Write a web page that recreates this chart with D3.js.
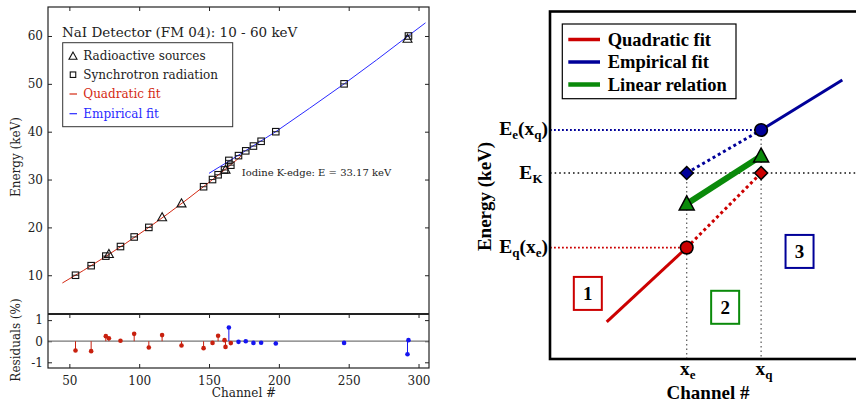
<!DOCTYPE html>
<html><head><meta charset="utf-8">
<script src="https://cdn.jsdelivr.net/npm/d3@7"></script>
<style>body{margin:0;background:#fff} svg{display:block}</style>
</head><body>
<svg id="c" width="856" height="404"></svg>
<script>
// ---------------- data (left panel) ----------------
const squareChannels = [54.4, 65.6, 76.1, 86.6, 96.4, 106.9, 146.1, 152.5, 156.5, 161.1, 165.6, 164.2, 171.1, 176.3, 181.8, 187.3, 197.8, 246.7, 292.8];
const squareEnergies = [10, 12, 14, 16, 18, 20, 28.5, 30, 31, 32, 33, 34, 35, 36, 37, 38, 40, 50, 60];
const triangleChannels = [78.3, 116.4, 130.3, 161.8, 292.1];
const triangleEnergies = [14.41, 22.1, 25.0, 32.06, 59.4];
const quadFitChannels = [45, 60, 75, 90, 105, 120, 135, 150, 165, 173];
const quadFitEnergies = [8.38, 10.99, 13.73, 16.6, 19.61, 22.74, 26.01, 29.41, 32.94, 34.9];
const empFitChannels = [150, 164, 176, 198, 222, 247, 270, 292.5, 305];
const empFitEnergies = [31.3, 33.8, 36.0, 40.05, 44.9, 50.05, 55.0, 60.0, 62.75];
const resQuadChannels = [54.4, 65.6, 76.1, 78.3, 86.6, 96.4, 106.9, 116.4, 130.3, 146.1, 152.5, 156.5, 161.1, 161.8, 165.6];
const resQuadValues = [-0.44, -0.47, 0.24, 0.14, 0.02, 0.35, -0.3, 0.29, -0.2, -0.33, -0.08, 0.26, 0.05, -0.27, -0.09];
const resEmpChannels = [164.2, 171.1, 176.3, 181.8, 187.3, 197.8, 246.7, 292.1, 292.8];
const resEmpValues = [0.65, -0.03, 0.0, -0.08, -0.07, -0.11, -0.08, -0.62, 0.05];
const xTicks = [50, 100, 150, 200, 250, 300];
const yTicks = [10, 20, 30, 40, 50, 60];
const resTicks = [-1, 0, 1];
const legendLeft = ["Radioactive sources", "Synchrotron radiation", "Quadratic fit", "Empirical fit"];

// ---------------- data (right schematic, abstract units 0-100) ----------------
const xe = 44.1, xq = 68.1;
const EK = 53.6, EeXq = 66.0, EqXe = 32.1;
const linAtXe = 44.7, linAtXq = 58.5;
const quadSolidStart = [18.3, 10.7];
const empSolidEnd = [94.3, 80.4];
const legendRight = ["Quadratic fit", "Empirical fit", "Linear relation"];
const regionBoxes = [{label: "1", x: 12.2, y: 18.9}, {label: "2", x: 56.5, y: 14.9}, {label: "3", x: 80.5, y: 31.0}];

const svg = d3.select("#c");
const SERIF = "DejaVu Serif";
const RED = "#d42a14", BLUE = "#2a2aff";

// ================= LEFT PANEL =================
const x = d3.scaleLinear().domain([34.7, 307.5]).range([48, 429]);
const yM = d3.scaleLinear().domain([1.9, 66.06]).range([314, 7]);
const yR = d3.scaleLinear().domain([-1.27, 1.29]).range([368, 314]);

const L = svg.append("g");
L.append("clipPath").attr("id", "clipMain").append("rect").attr("x", 48).attr("y", 7).attr("width", 381).attr("height", 307);

const fmt = d => String(d).replace("\u2212", "-");
function styleAxis(g, labels) {
  g.select(".domain").remove();
  g.selectAll(".tick line").attr("stroke", "#222").attr("stroke-width", 1);
  g.selectAll("text").attr("font-family", SERIF).attr("font-size", 12).attr("fill", "#222");
  if (!labels) g.selectAll("text").remove();
}
L.append("g").attr("transform", "translate(48,0)").call(d3.axisLeft(yM).tickValues(yTicks).tickFormat(fmt).tickSize(-4).tickPadding(5)).call(g => styleAxis(g, true));
L.append("g").attr("transform", "translate(429,0)").call(d3.axisRight(yM).tickValues(yTicks).tickSize(-4)).call(g => styleAxis(g, false));
L.append("g").attr("transform", "translate(0,7)").call(d3.axisTop(x).tickValues(xTicks).tickSize(-4)).call(g => styleAxis(g, false));
L.append("g").attr("transform", "translate(0,314)").call(d3.axisBottom(x).tickValues(xTicks).tickSize(4)).call(g => styleAxis(g, false));
L.append("g").attr("transform", "translate(0,368)").call(d3.axisBottom(x).tickValues(xTicks).tickFormat(fmt).tickSize(-4).tickPadding(8)).call(g => styleAxis(g, true));
L.append("g").attr("transform", "translate(48,0)").call(d3.axisLeft(yR).tickValues(resTicks).tickFormat(fmt).tickSize(-4).tickPadding(5)).call(g => styleAxis(g, true));
L.append("g").attr("transform", "translate(429,0)").call(d3.axisRight(yR).tickValues(resTicks).tickSize(-4)).call(g => styleAxis(g, false));

// zero line
L.append("line").attr("x1", 48).attr("x2", 429).attr("y1", yR(0)).attr("y2", yR(0)).attr("stroke", "#777").attr("stroke-width", 1.3);

// fit lines
const lineGen = d3.line().x(d => x(d[0])).y(d => yM(d[1]));
L.append("path").datum(d3.zip(quadFitChannels, quadFitEnergies)).attr("d", lineGen).attr("fill", "none").attr("stroke", RED).attr("stroke-width", 1).attr("clip-path", "url(#clipMain)");
L.append("path").datum(d3.zip(empFitChannels, empFitEnergies)).attr("d", lineGen).attr("fill", "none").attr("stroke", BLUE).attr("stroke-width", 1).attr("clip-path", "url(#clipMain)");

// markers
function drawSquare(g, cx, cy, s, mid) {
  g.append("rect").attr("x", cx - s / 2).attr("y", cy - s / 2).attr("width", s).attr("height", s).attr("fill", "none").attr("stroke", "#111").attr("stroke-width", 1.1);
  if (mid) g.append("line").attr("x1", cx - s / 2).attr("x2", cx + s / 2).attr("y1", cy).attr("y2", cy).attr("stroke", "#111").attr("stroke-width", 0.9);
}
function drawTri(g, cx, cy, w) {
  const h = w * 0.9;
  g.append("path").attr("d", `M${cx},${cy - h * 0.58}L${cx - w / 2},${cy + h * 0.42}L${cx + w / 2},${cy + h * 0.42}Z`).attr("fill", "none").attr("stroke", "#111").attr("stroke-width", 1.1);
}
const mk = L.append("g");
squareChannels.forEach((c, i) => drawSquare(mk, x(c), yM(squareEnergies[i]), 6.5, true));
triangleChannels.forEach((c, i) => drawTri(mk, x(c), yM(triangleEnergies[i]), 9));

// residual stems
function stems(ch, vals, col) {
  const g = L.append("g");
  ch.forEach((c, i) => {
    g.append("line").attr("x1", x(c)).attr("x2", x(c)).attr("y1", yR(0)).attr("y2", yR(vals[i])).attr("stroke", col).attr("stroke-width", 1);
    g.append("circle").attr("cx", x(c)).attr("cy", yR(vals[i])).attr("r", 2.3).attr("fill", col);
  });
}
stems(resQuadChannels, resQuadValues, "#c8200e");
stems(resEmpChannels, resEmpValues, "#1515f0");

// frames
L.append("rect").attr("x", 48).attr("y", 7).attr("width", 381).attr("height", 361).attr("fill", "none").attr("stroke", "#222").attr("stroke-width", 1.2);
L.append("line").attr("x1", 48).attr("x2", 429).attr("y1", 314).attr("y2", 314).attr("stroke", "#222").attr("stroke-width", 2);

// title
L.append("text").attr("x", 62).attr("y", 36.5).attr("font-family", SERIF).attr("font-size", 13.5).attr("fill", "#222").text("NaI Detector (FM 04): 10 - 60 keV");
// legend
L.append("rect").attr("x", 62.7).attr("y", 42.7).attr("width", 170).attr("height", 84).attr("fill", "#fff").attr("stroke", "#333").attr("stroke-width", 1);
const legY = [55.7, 74.7, 94, 113.7];
const legCol = ["#222", "#222", RED, BLUE];
const lg = L.append("g");
drawTri(lg, 73, legY[0] + 0.5, 8);
drawSquare(lg, 73, legY[1], 5.5, false);
lg.append("line").attr("x1", 69.5).attr("x2", 77).attr("y1", legY[2]).attr("y2", legY[2]).attr("stroke", RED).attr("stroke-width", 1.2);
lg.append("line").attr("x1", 69.5).attr("x2", 77).attr("y1", legY[3]).attr("y2", legY[3]).attr("stroke", BLUE).attr("stroke-width", 1.2);
legendLeft.forEach((t, i) => {
  lg.append("text").attr("x", 83.3).attr("y", legY[i] + 4.3).attr("font-family", SERIF).attr("font-size", 12).attr("fill", legCol[i]).text(t);
});
// annotation
L.append("text").attr("x", 241.7).attr("y", 175.7).attr("font-family", SERIF).attr("font-size", 10).attr("fill", "#222").text("Iodine K-edge: E = 33.17 keV");

// axis labels
L.append("text").attr("transform", "translate(20,157) rotate(-90)").attr("text-anchor", "middle").attr("font-family", SERIF).attr("font-size", 12).attr("fill", "#222").text("Energy (keV)");
L.append("text").attr("transform", "translate(20,340) rotate(-90)").attr("text-anchor", "middle").attr("font-family", SERIF).attr("font-size", 12).attr("fill", "#222").text("Residuals (%)");
L.append("text").attr("x", 244).attr("y", 396.5).attr("text-anchor", "middle").attr("font-family", SERIF).attr("font-size", 12).attr("fill", "#222").text("Channel #");

// ================= RIGHT PANEL =================
const TIMES = "Liberation Serif";
const sx = d3.scaleLinear().domain([0, 100]).range([550, 860]);
const sy = d3.scaleLinear().domain([0, 100]).range([359, 12]);
const SR = "#cc0000", SB = "#000099", SG = "#0a8a0a";
const R = svg.append("g");

// guide lines
R.append("line").attr("x1", sx(0)).attr("x2", sx(xq)).attr("y1", sy(EeXq)).attr("y2", sy(EeXq)).attr("stroke", SB).attr("stroke-width", 1.8).attr("stroke-dasharray", "1.8,2.2");
R.append("line").attr("x1", sx(0)).attr("x2", sx(100)).attr("y1", sy(EK)).attr("y2", sy(EK)).attr("stroke", "#111").attr("stroke-width", 1.6).attr("stroke-dasharray", "1.6,3");
R.append("line").attr("x1", sx(0)).attr("x2", sx(xe)).attr("y1", sy(EqXe)).attr("y2", sy(EqXe)).attr("stroke", SR).attr("stroke-width", 1.8).attr("stroke-dasharray", "1.8,2.2");
R.append("line").attr("x1", sx(xe)).attr("x2", sx(xe)).attr("y1", sy(EK)).attr("y2", sy(0)).attr("stroke", "#555").attr("stroke-width", 1.2).attr("stroke-dasharray", "1.5,3");
R.append("line").attr("x1", sx(xq)).attr("x2", sx(xq)).attr("y1", sy(EeXq)).attr("y2", sy(0)).attr("stroke", "#555").attr("stroke-width", 1.2).attr("stroke-dasharray", "1.5,3");

// dotted extrapolations
R.append("line").attr("x1", sx(xe)).attr("x2", sx(xq)).attr("y1", sy(EK)).attr("y2", sy(EeXq)).attr("stroke", SB).attr("stroke-width", 3).attr("stroke-dasharray", "3,3");
R.append("line").attr("x1", sx(xe)).attr("x2", sx(xq)).attr("y1", sy(EqXe)).attr("y2", sy(EK)).attr("stroke", SR).attr("stroke-width", 3).attr("stroke-dasharray", "3,3");
// solid
R.append("line").attr("x1", sx(quadSolidStart[0])).attr("x2", sx(xe)).attr("y1", sy(quadSolidStart[1])).attr("y2", sy(EqXe)).attr("stroke", SR).attr("stroke-width", 3);
R.append("line").attr("x1", sx(xq)).attr("x2", sx(empSolidEnd[0])).attr("y1", sy(EeXq)).attr("y2", sy(empSolidEnd[1])).attr("stroke", SB).attr("stroke-width", 3);
R.append("line").attr("x1", sx(xe)).attr("x2", sx(xq)).attr("y1", sy(linAtXe)).attr("y2", sy(linAtXq)).attr("stroke", SG).attr("stroke-width", 6);

// markers
function diamond(cx, cy, col) {
  R.append("path").attr("d", `M${cx},${cy - 6.5}L${cx + 6.5},${cy}L${cx},${cy + 6.5}L${cx - 6.5},${cy}Z`).attr("fill", col).attr("stroke", "#000").attr("stroke-width", 1.5);
}
function tri(cx, cy, col) {
  R.append("path").attr("d", `M${cx},${cy - 8}L${cx + 7.5},${cy + 6}L${cx - 7.5},${cy + 6}Z`).attr("fill", col).attr("stroke", "#000").attr("stroke-width", 1.5);
}
diamond(sx(xe), sy(EK), SB);
diamond(sx(xq), sy(EK), SR);
tri(sx(xe), sy(linAtXe), SG);
tri(sx(xq), sy(linAtXq), SG);
R.append("circle").attr("cx", sx(xq)).attr("cy", sy(EeXq)).attr("r", 6.3).attr("fill", SB).attr("stroke", "#000").attr("stroke-width", 1.6);
R.append("circle").attr("cx", sx(xe)).attr("cy", sy(EqXe)).attr("r", 6.3).attr("fill", SR).attr("stroke", "#000").attr("stroke-width", 1.6);

// frame
R.append("rect").attr("x", 550).attr("y", 11.5).attr("width", 320).attr("height", 347.5).attr("fill", "none").attr("stroke", "#000").attr("stroke-width", 2.6);

// legend
R.append("rect").attr("x", 562.3).attr("y", 24).attr("width", 173.7).attr("height", 74.7).attr("fill", "#fff").attr("stroke", "#000").attr("stroke-width", 1.2);
const rCols = [SR, SB, SG];
legendRight.forEach((t, i) => {
  const yb = 45.5 + i * 22.5;
  R.append("line").attr("x1", 568.3).attr("x2", 600).attr("y1", yb - 6).attr("y2", yb - 6).attr("stroke", rCols[i]).attr("stroke-width", i === 2 ? 4.5 : 3.5);
  R.append("text").attr("x", 607.7).attr("y", yb).attr("font-family", TIMES).attr("font-weight", "bold").attr("font-size", 18.5).attr("fill", "#000").text(t);
});

// region boxes
const boxCols = [SR, SG, SB];
regionBoxes.forEach((b, i) => {
  R.append("rect").attr("x", sx(b.x) - 14).attr("y", sy(b.y) - 16.5).attr("width", 28).attr("height", 33).attr("fill", "#fff").attr("stroke", boxCols[i]).attr("stroke-width", 2);
  R.append("text").attr("x", sx(b.x)).attr("y", sy(b.y) + 6.5).attr("text-anchor", "middle").attr("font-family", TIMES).attr("font-weight", "bold").attr("font-size", 19).text(b.label);
});

// labels with subscripts
function subLabel(xp, yp, anchor, parts) {
  const t = R.append("text").attr("x", xp).attr("y", yp).attr("text-anchor", anchor).attr("font-family", TIMES).attr("font-weight", "bold").attr("font-size", 19.5).attr("fill", "#000");
  parts.forEach(p => {
    if (p.sub) t.append("tspan").attr("font-size", 13).attr("dy", 4).text(p.t);
    else t.append("tspan").attr("dy", p.up ? -4 : 0).text(p.t);
  });
  return t;
}
subLabel(548, sy(EeXq) + 5, "end", [{t: "E"}, {t: "e", sub: true}, {t: "(x", up: true}, {t: "q", sub: true}, {t: ")", up: true}]);
subLabel(542.5, sy(EK) + 6, "end", [{t: "E"}, {t: "K", sub: true}]);
subLabel(548, sy(EqXe) + 5, "end", [{t: "E"}, {t: "q", sub: true}, {t: "(x", up: true}, {t: "e", sub: true}, {t: ")", up: true}]);
subLabel(sx(xe) + 1, 375, "middle", [{t: "x"}, {t: "e", sub: true}]);
subLabel(sx(xq) + 3, 375, "middle", [{t: "x"}, {t: "q", sub: true}]);
R.append("text").attr("x", 708).attr("y", 399).attr("text-anchor", "middle").attr("font-family", TIMES).attr("font-weight", "bold").attr("font-size", 19).text("Channel #");
R.append("text").attr("transform", "translate(491,196.5) rotate(-90)").attr("text-anchor", "middle").attr("font-family", TIMES).attr("font-weight", "bold").attr("font-size", 19).text("Energy (keV)");
</script>
</body></html>
